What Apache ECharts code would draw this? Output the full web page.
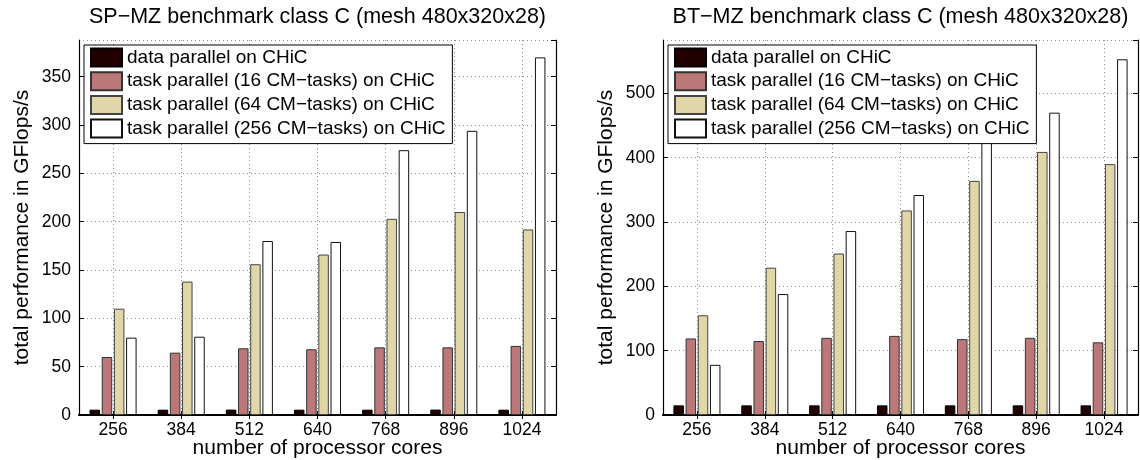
<!DOCTYPE html>
<html>
<head>
<meta charset="utf-8">
<script src="https://cdn.jsdelivr.net/npm/echarts@6/dist/echarts.min.js"></script>
<style>html,body{margin:0;padding:0;background:#fff;}#chart{width:1140px;height:460px;}</style>
</head>
<body>
<div id="chart"></div>
<script>
const categories = ['256', '384', '512', '640', '768', '896', '1024'];
const seriesNames = [
  'data parallel on CHiC',
  'task parallel (16 CM\u2212tasks) on CHiC',
  'task parallel (64 CM\u2212tasks) on CHiC',
  'task parallel (256 CM\u2212tasks) on CHiC'
];
const spTitle = 'SP\u2212MZ benchmark class C (mesh 480x320x28)';
const btTitle = 'BT\u2212MZ benchmark class C (mesh 480x320x28)';
const xName = 'number of processor cores';
const yName = 'total performance in GFlops/s';

// SP-MZ values (GFlops/s)
const spDataParallel = [5.5, 5.5, 5.6, 5.5, 5.5, 5.6, 5.5];
const spTask16 = [60, 64.5, 69, 68, 70, 70, 71.5];
const spTask64 = [110, 138, 156, 166, 203, 210, 192];
const spTask256 = [80, 81, 180, 179, 274, 294, 370];
const spYMax = 388, spYInterval = 50;

// BT-MZ values (GFlops/s)
const btDataParallel = [15, 15, 15, 15, 15, 15, 15];
const btTask16 = [119, 115, 120, 123, 118, 120, 113];
const btTask64 = [155, 229, 251, 318, 364, 409, 390];
const btTask256 = [78, 188, 286, 342, 426, 470, 553];
const btYMax = 583, btYInterval = 100;

const FONT = '"Liberation Sans", Arial, Helvetica, sans-serif';
const styles = [
  {color: '#230000', borderColor: '#000000', borderWidth: 1},
  {color: '#bc7878', borderColor: '#333333', borderWidth: 1},
  {color: '#e1d6a7', borderColor: '#444444', borderWidth: 1},
  {color: '#ffffff', borderColor: '#111111', borderWidth: 1}
];

const grids = [
  {left: 79, right: 584, top: 40, bottom: 45, containLabel: false, outerBoundsMode: 'none'},
  {left: 663, right: 2, top: 40, bottom: 45, containLabel: false, outerBoundsMode: 'none'}
];

function xAxes(gi) {
  return [
    {
      type: 'category', gridIndex: gi, data: categories, position: 'bottom',
      name: xName, nameLocation: 'middle', nameGap: 23, nameMoveOverlap: false,
      nameTextStyle: {fontSize: 21, fontFamily: FONT, color: '#000'},
      axisLine: {show: true, lineStyle: {color: '#000', width: 2}},
      axisTick: {show: true, inside: true, alignWithLabel: true, length: 4, lineStyle: {color: '#000'}},
      axisLabel: {fontSize: 17.5, fontFamily: FONT, color: '#000', margin: 6},
      splitLine: {show: true, alignWithLabel: true, lineStyle: {color: '#8a8a8a', type: [1, 3], width: 1}}
    },
    {
      type: 'category', gridIndex: gi, data: categories, position: 'top',
      axisLine: {show: true, lineStyle: {color: '#000', width: 1.2}},
      axisTick: {show: true, inside: true, alignWithLabel: true, length: 4, lineStyle: {color: '#000'}},
      axisLabel: {show: false},
      splitLine: {show: false}
    }
  ];
}

function yAxes(gi, max, interval) {
  return [
    {
      type: 'value', gridIndex: gi, position: 'left', min: 0, max: max, interval: interval,
      name: yName, nameLocation: 'middle', nameGap: 46, nameMoveOverlap: false,
      nameTextStyle: {fontSize: 21, fontFamily: FONT, color: '#000'},
      axisLine: {show: true, lineStyle: {color: '#000', width: 1.2}},
      axisTick: {show: true, inside: true, length: 5, lineStyle: {color: '#000'}},
      axisLabel: {fontSize: 17.5, fontFamily: FONT, color: '#000', margin: 8, showMaxLabel: false},
      splitLine: {show: true, lineStyle: {color: '#8a8a8a', type: [1, 3], width: 1}}
    },
    {
      type: 'value', gridIndex: gi, position: 'right', min: 0, max: max, interval: interval,
      axisLine: {show: true, lineStyle: {color: '#000', width: 1.2}},
      axisTick: {show: true, inside: true, length: 5, lineStyle: {color: '#000'}},
      axisLabel: {show: false},
      splitLine: {show: false}
    }
  ];
}

function barSeries(gi, arrays) {
  return arrays.map((arr, i) => ({
    name: seriesNames[i], type: 'bar', xAxisIndex: gi * 2, yAxisIndex: gi * 2,
    data: arr, barWidth: 10.5, barGap: '16%', itemStyle: styles[i], z: 3,
    emphasis: {disabled: true}
  }));
}

function legend(left) {
  return {
    left: left, top: 45, orient: 'vertical', selectedMode: false,
    data: seriesNames, itemWidth: 31, itemHeight: 18, itemGap: 3.7,
    padding: [2.5, 7, 5, 6], borderColor: '#000', borderWidth: 1, backgroundColor: '#fff',
    textStyle: {fontSize: 19, fontFamily: FONT, color: '#000'},
    icon: 'rect', z: 10
  };
}

const chart = echarts.init(document.getElementById('chart'), null, {renderer: 'canvas'});
chart.setOption({
  animation: false,
  backgroundColor: '#fff',
  title: [
    {text: spTitle, left: 317.5, top: 6, textAlign: 'center', padding: 0,
     textStyle: {fontSize: 21.5, fontWeight: 'normal', fontFamily: FONT, color: '#000'}},
    {text: btTitle, left: 900.5, top: 6, textAlign: 'center', padding: 0,
     textStyle: {fontSize: 21.5, fontWeight: 'normal', fontFamily: FONT, color: '#000'}}
  ],
  legend: [legend(84), legend(668)],
  grid: grids,
  xAxis: [...xAxes(0), ...xAxes(1)],
  yAxis: [...yAxes(0, spYMax, spYInterval), ...yAxes(1, btYMax, btYInterval)],
  series: [
    ...barSeries(0, [spDataParallel, spTask16, spTask64, spTask256]),
    ...barSeries(1, [btDataParallel, btTask16, btTask64, btTask256])
  ]
});
</script>
</body>
</html>
